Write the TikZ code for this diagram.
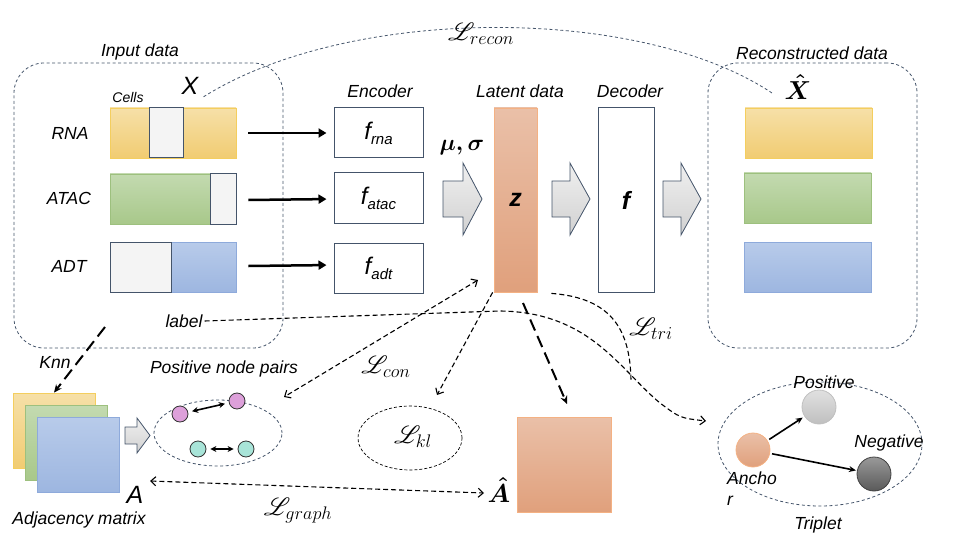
\RequirePackage{fix-cm}
\documentclass[tikz,border=0pt]{standalone}
\usepackage{fontspec}
\setmainfont{Liberation Sans}
\usepackage{mathrsfs}
\usetikzlibrary{arrows.meta,shapes.geometric}
\definecolor{bord}{HTML}{44546A}
\definecolor{yA}{HTML}{F6E0A8}\definecolor{yB}{HTML}{F1CC72}\definecolor{yC}{HTML}{F4CE5E}
\definecolor{gA}{HTML}{C3DAB0}\definecolor{gB}{HTML}{A8C88A}\definecolor{gC}{HTML}{9DC07E}
\definecolor{bA}{HTML}{B8CBEA}\definecolor{bB}{HTML}{9DB6E0}\definecolor{bC}{HTML}{8EAADB}
\definecolor{oA}{HTML}{EAC0A8}\definecolor{oB}{HTML}{E0A07C}\definecolor{oC}{HTML}{F4B183}
\definecolor{wfill}{HTML}{F4F4F4}
\definecolor{pinkc}{HTML}{DDA0DA}\definecolor{tealc}{HTML}{A8E4D8}
\newcommand{\fsub}[1]{{\fontsize{24}{26}\selectfont\itshape f}\raisebox{-5pt}{\fontsize{15}{16}\selectfont\itshape #1}}
\tikzset{
  mybarb/.tip={Straight Barb[length=5pt,width=9pt]},
  lbl/.style={font=\fontsize{17.5}{21}\selectfont\itshape, inner sep=0},
  mlbl/.style={font=\fontsize{26}{28}\selectfont, inner sep=0},
  hlbl/.style={font=\fontsize{26}{28}\selectfont\boldmath, inner sep=0},
  dbox/.style={rectangle, draw=bord, line width=0.8pt, dash pattern=on 3pt off 2.5pt, rounded corners=30pt, inner sep=0},
  dell/.style={ellipse, draw=bord, line width=0.8pt, dash pattern=on 3pt off 2.5pt, inner sep=0},
  klell/.style={ellipse, draw=black, line width=0.7pt, dash pattern=on 3pt off 2pt, inner sep=0},
  barbase/.style={rectangle, inner sep=0, minimum height=50pt, line width=0.8pt},
  ybar/.style={barbase, top color=yA, bottom color=yB, draw=yC},
  gbar/.style={barbase, top color=gA, bottom color=gB, draw=gC},
  bbar/.style={barbase, top color=bA, bottom color=bB, draw=bC},
  wbox/.style={rectangle, inner sep=0, minimum height=50pt, fill=wfill, draw=bord, line width=1pt},
  enc/.style={rectangle, draw=bord, line width=1pt, fill=white, minimum width=89pt, minimum height=50pt, inner sep=0},
  zbox/.style={rectangle, top color=oA, bottom color=oB, draw=oC, line width=0.8pt, inner sep=0},
  sq/.style={rectangle, inner sep=0, minimum width=82pt, minimum height=75pt, line width=0.8pt},
  barrow/.style={draw=bord, line width=0.8pt, top color=black!6, bottom color=black!18},
  thickarr/.style={line width=2.5pt, -{Triangle[length=8pt,width=9pt]}},
  dline/.style={draw=black, line width=1.1pt, dash pattern=on 5pt off 3pt},
  ldash/.style={draw=black, line width=2pt, dash pattern=on 12pt off 6pt},
  dot/.style={circle, draw=black!80, line width=0.8pt, minimum size=16pt, inner sep=0},
  big/.style={circle, minimum size=34pt, inner sep=0, line width=0.8pt},
  solarr/.style={line width=1.6pt, -{Stealth[length=7pt,width=6pt]}},
  dblarr/.style={line width=1.6pt, {Stealth[length=6pt,width=6pt]}-{Stealth[length=6pt,width=6pt]}}
}
\begin{document}
\begin{tikzpicture}[x=1pt,y=-1pt]
\useasboundingbox (0,0) rectangle (960,540);
% ---------- input data ----------
\node[dbox, minimum width=269pt, minimum height=285pt] (inbox) at (148.5,205.5) {};
\node[lbl] (intitle) at (140,52) {Input data};
\node[font=\fontsize{25}{28}\selectfont\itshape, inner sep=0] (X) at (190,86) {X};
\node[font=\fontsize{14}{16}\selectfont\itshape, inner sep=0] (cells) at (128,97) {Cells};
\node[ybar, minimum width=126pt] (rna) at (173,133) {};
\node[wbox, minimum width=34pt] (rnaw) at (166,133) {};
\node[gbar, minimum width=126pt] (atac) at (173,199) {};
\node[wbox, minimum width=26pt] (atacw) at (223,199) {};
\node[bbar, minimum width=126pt] (adt) at (173,267) {};
\node[wbox, minimum width=61pt] (adtw) at (140.5,267) {};
\node[lbl] (lrna) at (70,133) {RNA};
\node[lbl] (latac) at (69,198) {ATAC};
\node[lbl] (ladt) at (69,266) {ADT};
% ---------- encoder ----------
\node[lbl] (enctitle) at (380,91) {Encoder};
\node[enc] (erna) at (378.5,133) {\fsub{rna}};
\node[enc] (eatac) at (378.5,198) {\fsub{atac}};
\node[enc] (eadt) at (378.5,268) {\fsub{adt}};
\draw[thickarr, shorten >=7pt] ([xshift=12pt]rna.east) -- (erna.west);
\draw[thickarr, shorten >=7pt] ([xshift=12pt,yshift=-1pt]atac.east) -- ([yshift=-1pt]eatac.west);
\draw[thickarr, shorten >=7pt] ([xshift=12pt,yshift=1pt]adt.east) -- ([yshift=3pt]eadt.west);
% ---------- latent / decoder ----------
\node[lbl] (lattitle) at (520,91) {Latent data};
\node[lbl] (dectitle) at (630,91) {Decoder};
\node[zbox, minimum width=43pt, minimum height=184pt, font=\fontsize{25}{28}\selectfont\bfseries\itshape] (z) at (515.5,200) {z};
\node[enc, minimum width=56pt, minimum height=184pt, font=\fontsize{25}{28}\selectfont\bfseries\itshape] (dec) at (626,200) {f};
\node[font=\fontsize{23}{25}\selectfont\boldmath, inner sep=0] (musig) at (462,148) {$\mu,\sigma$};
\path[barrow] (443,181) -- (463,181) -- (463,163) -- (482,199) -- (463,235) -- (463,217) -- (443,217) -- cycle;
\path[barrow] (552,181) -- (570,181) -- (570,163) -- (590,199) -- (570,235) -- (570,217) -- (552,217) -- cycle;
\path[barrow] (663,181) -- (681,181) -- (681,163) -- (701,199) -- (681,235) -- (681,217) -- (663,217) -- cycle;
% ---------- reconstructed ----------
\node[dbox, minimum width=209pt, minimum height=285pt] (rbox) at (812.5,205.5) {};
\node[lbl] (rtitle) at (812,53) {Reconstructed data};
\node[hlbl] (Xhat) at (798,87) {$\hat{X}$};
\node[ybar, minimum width=127pt] (ryel) at (808.5,133) {};
\node[gbar, minimum width=127pt] (rgrn) at (807.5,198) {};
\node[bbar, minimum width=127pt] (rblu) at (807.5,267) {};
% L_recon
\draw[draw=bord, line width=0.8pt, dash pattern=on 3pt off 2.5pt] ([xshift=5pt,yshift=-2pt]X.south east) .. controls (350,5) and (640,5) .. (772,93);
\node[mlbl] (lrecon) at (481,34) {$\mathscr{L}_{recon}$};
% ---------- adjacency ----------
\node[sq, top color=yA, bottom color=yB, draw=yC] (ym) at (54,430.5) {};
\node[sq, top color=gA, bottom color=gB, draw=gC] (gm) at (66.5,443) {};
\node[sq, top color=bA, bottom color=bB, draw=bC] (bm) at (78.5,454.5) {};
\node[font=\fontsize{25}{28}\selectfont\itshape, inner sep=0] (A) at (135,495) {A};
\node[lbl] (adjlbl) at (79,520) {Adjacency matrix};
\coordinate (knn0) at (105,327);
\draw[ldash, -{Stealth[length=8pt,width=7pt]}] (knn0) -- (ym.north);
\node[lbl] (knn) at (55,362) {Knn};
\path[barrow] (125,427) -- (137,427) -- (137,418) -- (150,435.5) -- (137,453) -- (137,444) -- (125,444) -- cycle;
% positive node pairs
\node[dell, minimum width=128pt, minimum height=66pt] (pp) at (218,433) {};
\node[lbl] (pptitle) at (224,369) {Positive node pairs};
\node[dot, fill=pinkc] (p1) at (180,414) {};
\node[dot, fill=pinkc] (p2) at (237,401) {};
\node[dot, fill=tealc] (t1) at (198,449) {};
\node[dot, fill=tealc] (t2) at (246,449) {};
\draw[dblarr, shorten <=4pt, shorten >=4pt] (p1) -- (p2);
\draw[dblarr, shorten <=4pt, shorten >=4pt] (t1) -- (t2);
% ---------- losses ----------
\node[klell, minimum width=104pt, minimum height=64pt] (kl) at (410,438) {};
\node[mlbl] (lkl) at (413,437) {$\mathscr{L}_{kl}$};
\node[zbox, minimum width=94pt, minimum height=95pt] (Asq) at (564,464.5) {};
\node[hlbl] (Ahat) at (499,490) {$\hat{A}$};
\coordinate (conend) at (284,397);
\coordinate (conbeg) at (478,280);
\draw[dline, {mybarb}-{mybarb}] (conbeg) -- (conend);
\node[mlbl] (lcon) at (386,367) {$\mathscr{L}_{con}$};
\coordinate (klend) at (437,395);
\draw[dline, -{mybarb}] ([xshift=-1pt]z.south west) -- (klend);
\coordinate (ld0) at (523,303);
\coordinate (ld1) at (567,404);
\draw[ldash, -{Stealth[length=8pt,width=7pt]}] (ld0) -- (ld1);
\coordinate (g1) at (150,481);
\coordinate (g2) at (484,493);
\draw[dline, {mybarb}-{mybarb}] (g1) -- (g2);
\node[mlbl] (lgraph) at (298,511) {$\mathscr{L}_{graph}$};
% label line and L_tri
\node[lbl] (label) at (184,321) {label};
\coordinate (tripin) at (706,421);
\draw[dline, -{mybarb}] ([xshift=2pt]label.east) -- (500,311) .. controls (590,312) and (620,370) .. (660,403) .. controls (680,418) .. (tripin);
\draw[dline] ([xshift=14pt,yshift=-1pt]z.south east) .. controls (612,298) and (630,330) .. (631,380);
\node[mlbl] (ltri) at (651,329) {$\mathscr{L}_{tri}$};
% ---------- triplet ----------
\node[dell, minimum width=204pt, minimum height=124pt] (trip) at (820,444) {};
\node[big, top color=black!12, bottom color=black!25, draw=black!25] (pos) at (819,407) {};
\node[big, top color=black!40, bottom color=black!65, draw=black!75] (neg) at (874,474) {};
\node[big, top color=oA, bottom color=oB, draw=oC] (anc) at (753,450) {};
\draw[solarr, shorten <=2pt, shorten >=2pt] (anc) -- (pos);
\draw[solarr, shorten <=2pt, shorten >=1pt] (anc) -- (neg);
\node[lbl] (poslbl) at (824,382) {Positive};
\node[lbl] (neglbl) at (889,443) {Negative};
\node[lbl, align=left, anchor=north west, font=\fontsize{17.5}{21}\selectfont\itshape] (anclbl) at (727,472) {Ancho\\r};
\node[lbl] (triplbl) at (818,525) {Triplet};
\end{tikzpicture}
\end{document}
